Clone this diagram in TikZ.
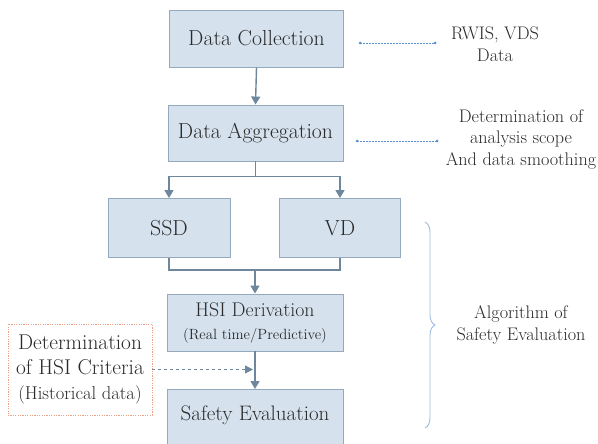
\documentclass[tikz,border=0pt]{standalone}
\usepackage{fontspec}
\usetikzlibrary{arrows.meta,decorations.pathreplacing,calc}
\definecolor{boxfill}{HTML}{D5E2EE}
\definecolor{boxline}{HTML}{94A9BC}
\definecolor{arrowc}{HTML}{6F879C}
\definecolor{dotc}{HTML}{5C90D2}
\definecolor{bracec}{HTML}{9CBAE0}
\definecolor{critc}{HTML}{E9A285}
\definecolor{txt}{HTML}{2A2A2A}
\begin{document}
\begin{tikzpicture}[x=1pt,y=-1pt,
  procbox/.style={draw=boxline,fill=boxfill,line width=0.9pt,inner sep=0pt,text=txt,align=center},
  flow/.style={draw=arrowc,line width=1.4pt,-{Triangle[width=9pt,length=8pt]}},
  flowline/.style={draw=arrowc,line width=1.4pt},
  dotline/.style={draw=dotc,line width=0.8pt,dash pattern=on 1.5pt off 1.5pt},
  sidetext/.style={text=txt,align=center,font=\fontsize{18.2}{21.5}\selectfont},
  dotend/.style={circle,fill=dotc,inner sep=0pt,minimum size=3pt}]
\useasboundingbox (0,0) rectangle (598,444);

\node[procbox,minimum width=174pt,minimum height=57pt,font=\fontsize{21.7}{24}\selectfont] (dc) at (256.5,38.5) {Data Collection};
\node[procbox,minimum width=175pt,minimum height=56pt,font=\fontsize{21.7}{24}\selectfont] (da) at (255.5,133) {Data Aggregation};
\node[procbox,minimum width=122pt,minimum height=59pt,font=\fontsize{21.8}{24}\selectfont] (ssd) at (169,228) {SSD};
\node[procbox,minimum width=121pt,minimum height=59pt,font=\fontsize{21.8}{24}\selectfont] (vd) at (340,228) {VD};
\node[procbox,minimum width=176pt,minimum height=57pt,font=\fontsize{19.8}{23}\selectfont] (hsi) at (255,322.5) {HSI Derivation\\{\fontsize{14.8}{23}\selectfont (Real time/Predictive)}};
\node[procbox,minimum width=176pt,minimum height=66pt,anchor=north] (se) at (255,389) {};
\node[text=txt,font=\fontsize{21}{24}\selectfont,inner sep=0pt] (setxt) at (255,415) {Safety Evaluation};
\node[draw=critc,line width=0.9pt,dash pattern=on 1.2pt off 1.2pt,minimum width=144pt,minimum height=91pt,inner sep=0pt,align=center,text=txt,font=\fontsize{21.4}{25}\selectfont] (crit) at (80,369.5) {Determination\\of HSI Criteria\\{\fontsize{18.6}{25}\selectfont (Historical data)}};

% flow arrows
\draw[flow] (dc.south) -- (da.north);
\coordinate (split) at ($(da.south)+(0,15)$);
\draw[flowline] (da.south) -- (split);
\draw[flow] (split) -| (ssd.north);
\draw[flow] (split) -| (vd.north);
\coordinate (merge) at ($(ssd.south)+(0,12)$);
\draw[flowline] (ssd.south) -- (merge) -| (vd.south);
\coordinate (mergemid) at (hsi.north |- merge);
\draw[flow] (mergemid) -- (hsi.north);
\draw[flow] (hsi.south) -- (se.north);
\coordinate (critend) at ($(hsi.south)!0.47!(se.north)$);
\draw[draw=arrowc,line width=1pt,dashed,-{Triangle[width=8pt,length=8pt]}] (crit.east) -- (crit.east -| {$(critend)+(-2,0)$});

% side notes
\node[sidetext] (t1) at (495,44) {RWIS,~VDS\\Data};
\node[sidetext] (t2) at (521,139) {Determination of\\analysis scope\\And data smoothing};
\node[sidetext] (t3) at (521,325) {Algorithm of\\Safety Evaluation};

\coordinate (d1a) at (360,43);
\coordinate (d1b) at (435,43);
\coordinate (d2a) at (357,141);
\coordinate (d2b) at (437,141);
\draw[dotline] (d1a) -- (d1b);
\draw[dotline] (d2a) -- (d2b);
\node[dotend] (e1) at (d1a) {};
\node[dotend] (e2) at (d1b) {};
\node[dotend] (e3) at (d2a) {};
\node[dotend] (e4) at (d2b) {};

\coordinate (bt) at (425,222);
\coordinate (bb) at (425,428);
\draw[draw=bracec,line width=0.9pt,decorate,decoration={brace,amplitude=10pt}] (bt) -- (bb);
\end{tikzpicture}
\end{document}
